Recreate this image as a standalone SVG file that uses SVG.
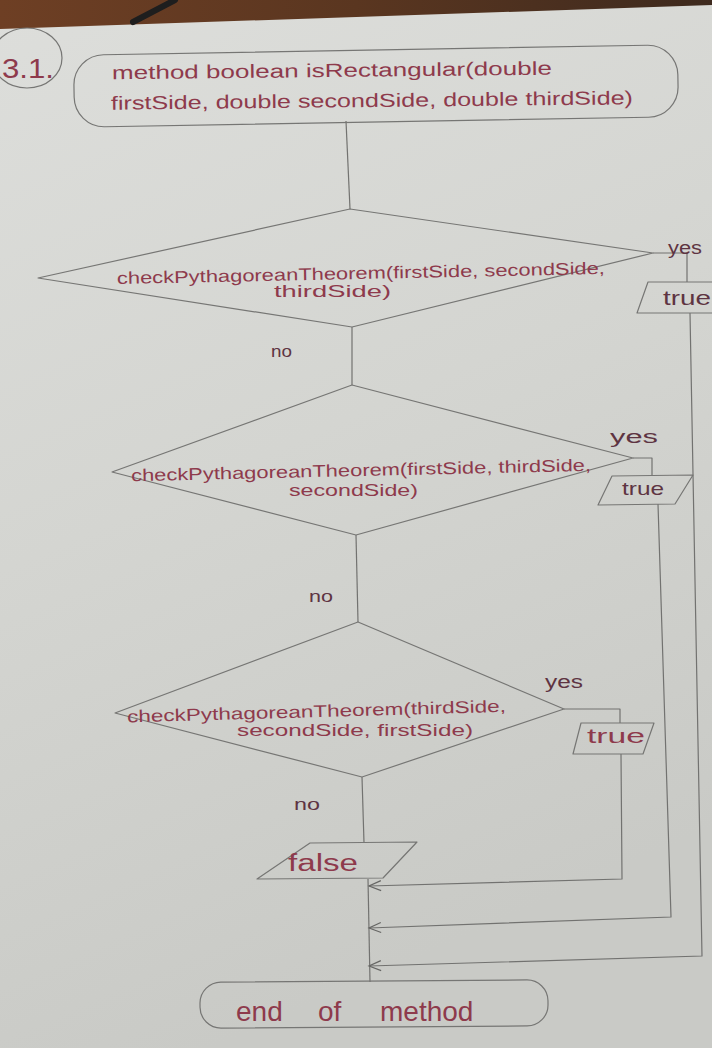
<svg xmlns="http://www.w3.org/2000/svg" width="712" height="1048" viewBox="0 0 712 1048">
<defs>
<linearGradient id="paper" x1="0" y1="0" x2="0.3" y2="1">
<stop offset="0" stop-color="#dddedb"/>
<stop offset="0.5" stop-color="#d4d5d1"/>
<stop offset="1" stop-color="#c9cac6"/>
</linearGradient>
<linearGradient id="desk" x1="0" y1="0" x2="1" y2="0">
<stop offset="0" stop-color="#6e3f24"/>
<stop offset="0.5" stop-color="#5a3620"/>
<stop offset="1" stop-color="#3e2a1e"/>
</linearGradient>
<marker id="arr" markerUnits="userSpaceOnUse" markerWidth="16" markerHeight="12" refX="14" refY="6" orient="auto">
<path d="M2,1 L14,6 L2,11" fill="none" stroke="#666664" stroke-width="1.2"/>
</marker>
</defs>
<style>
.ln{fill:none;stroke:#727270;stroke-width:1.2;stroke-linejoin:round}
.shape{fill:none;stroke:#767674;stroke-width:1.2;stroke-linejoin:round}
.ink{font-family:"Liberation Sans","DejaVu Sans",sans-serif;fill:#8e3a4c}
.dark{font-family:"Liberation Sans","DejaVu Sans",sans-serif;fill:#5e3442}
</style>
<rect x="0" y="0" width="712" height="1048" fill="url(#paper)"/>
<polygon points="0,0 712,0 712,5 0,29" fill="url(#desk)"/>
<line x1="133" y1="22" x2="175" y2="0" stroke="#1e1e1e" stroke-width="6" stroke-linecap="round"/>

<g id="label-3-1">
<ellipse cx="27" cy="58" rx="35" ry="30" class="shape"/>
<text x="2" y="78" class="ink" font-size="28" textLength="52" lengthAdjust="spacingAndGlyphs">3.1.</text>
</g>

<g id="connectors">
<polyline class="ln" points="346,121 350,209"/>
<polyline class="ln" points="352,327 352,385"/>
<polyline class="ln" points="356,535 358,622"/>
<polyline class="ln" points="362,777 364,843"/>
<polyline class="ln" points="368,879 370,982"/>
<polyline class="ln" points="653,253 687,253 687,282"/>
<polyline class="ln" points="633,458 652,458 652,476"/>
<polyline class="ln" points="564,709 620,709 620,723"/>
<polyline class="ln" points="621,754 622,879 369,886" marker-end="url(#arr)"/>
<polyline class="ln" points="658,504 671,917 369,928" marker-end="url(#arr)"/>
<polyline class="ln" points="690,313 702,956 369,966" marker-end="url(#arr)"/>
</g>

<g id="start">
<rect x="74" y="50" width="604" height="72" rx="30" class="shape" transform="rotate(-1 376 86)"/>
<text x="112" y="77" class="ink" font-size="19" textLength="440" lengthAdjust="spacingAndGlyphs" transform="rotate(-0.6 330 77)">method boolean isRectangular(double</text>
<text x="111" y="107" class="ink" font-size="19" textLength="522" lengthAdjust="spacingAndGlyphs" transform="rotate(-0.6 370 107)">firstSide, double secondSide, double thirdSide)</text>
</g>

<g id="decision1">
<polygon points="350,209 653,253 352,327 38,278" class="shape"/>
<text x="117" y="279" class="ink" font-size="17" textLength="488" lengthAdjust="spacingAndGlyphs" transform="rotate(-1.2 360 278)">checkPythagoreanTheorem(firstSide, secondSide,</text>
<text x="274" y="297" class="ink" font-size="17" textLength="117" lengthAdjust="spacingAndGlyphs">thirdSide)</text>
<text x="668" y="254" class="dark" font-size="18" textLength="34" lengthAdjust="spacingAndGlyphs">yes</text>
<text x="271" y="357" class="dark" font-size="17" textLength="21" lengthAdjust="spacingAndGlyphs">no</text>
</g>

<g id="true1">
<polygon points="648,282 728,282 716,313 637,313" class="shape"/>
<text x="663" y="305" class="dark" font-size="21" textLength="48" lengthAdjust="spacingAndGlyphs">true</text>
</g>

<g id="decision2">
<polygon points="352,385 633,458 356,535 112,472" class="shape"/>
<text x="131" y="476" class="ink" font-size="17" textLength="460" lengthAdjust="spacingAndGlyphs" transform="rotate(-1.3 360 470)">checkPythagoreanTheorem(firstSide, thirdSide,</text>
<text x="289" y="496" class="ink" font-size="17" textLength="129" lengthAdjust="spacingAndGlyphs">secondSide)</text>
<text x="610" y="443" class="dark" font-size="18" textLength="48" lengthAdjust="spacingAndGlyphs">yes</text>
<text x="309" y="602" class="dark" font-size="17" textLength="24" lengthAdjust="spacingAndGlyphs">no</text>
</g>

<g id="true2">
<polygon points="612,476 693,475 675,504 598,505" class="shape"/>
<text x="622" y="495" class="dark" font-size="19" textLength="42" lengthAdjust="spacingAndGlyphs">true</text>
</g>

<g id="decision3">
<polygon points="358,622 564,709 362,777 115,713" class="shape"/>
<text x="127" y="717" class="ink" font-size="17" textLength="379" lengthAdjust="spacingAndGlyphs" transform="rotate(-1.6 320 710)">checkPythagoreanTheorem(thirdSide,</text>
<text x="237" y="736" class="ink" font-size="17" textLength="236" lengthAdjust="spacingAndGlyphs">secondSide, firstSide)</text>
<text x="545" y="688" class="dark" font-size="18" textLength="38" lengthAdjust="spacingAndGlyphs">yes</text>
<text x="294" y="810" class="dark" font-size="17" textLength="26" lengthAdjust="spacingAndGlyphs">no</text>
</g>

<g id="true3">
<polygon points="581,723 654,723 643,754 573,754" class="shape"/>
<text x="587" y="743" class="ink" font-size="20" textLength="58" lengthAdjust="spacingAndGlyphs">true</text>
</g>

<g id="false">
<polygon points="310,843 417,842 383,878 257,879" class="shape"/>
<text x="288" y="871" class="ink" font-size="23" textLength="70" lengthAdjust="spacingAndGlyphs">false</text>
</g>

<g id="end">
<rect x="200" y="981" width="348" height="46" rx="21" class="shape" transform="rotate(-0.4 374 1004)"/>
<text y="1021" class="ink" font-size="28"><tspan x="236">end</tspan> <tspan x="318">of</tspan> <tspan x="380">method</tspan></text>
</g>
</svg>
